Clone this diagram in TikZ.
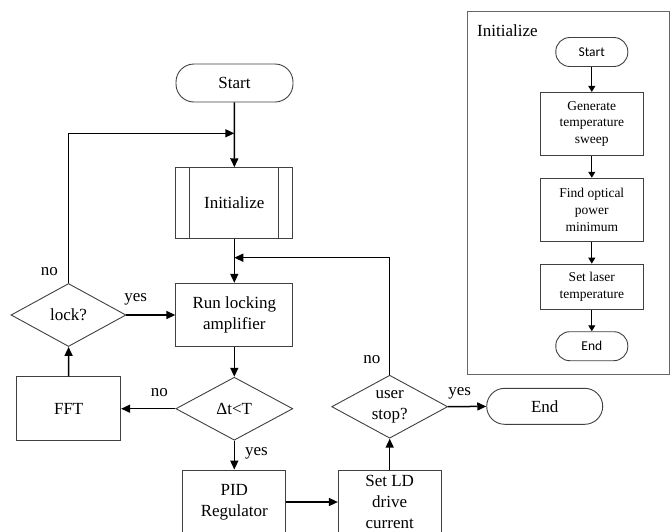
\documentclass[tikz,border=0pt]{standalone}
\usepackage{fontspec}
\setmainfont{Liberation Serif}
\newfontfamily\carlito{Carlito}
\usetikzlibrary{shapes, calc, arrows.meta, positioning}

\begin{document}
\begin{tikzpicture}[x=1pt, y=-1pt, > = {Triangle[length=9pt, width=8pt]},
    box/.style = {draw=black!75, line width=0.9pt, fill=white, align=center, inner sep=1pt, font=\fontsize{17}{21}\selectfont},
    term/.style = {box, rounded corners=18pt},
    cond/.style = {box, diamond, aspect=1.84},
    ibox/.style = {box, font=\fontsize{13.5}{16.7}\selectfont, minimum width=102.7pt},
    iterm/.style = {ibox, rounded corners=14pt, font=\carlito\fontsize{13.5}{16.7}\selectfont, minimum width=72pt, minimum height=29pt},
    flow/.style = {->, line width=1.5pt},
    iflow/.style = {-{Triangle[length=6pt, width=7pt]}, line width=1pt},
    lbl/.style = {font=\fontsize{17}{21}\selectfont, inner sep=2pt}]
    \useasboundingbox (0,0) rectangle (670,531);
    \clip (0,0) rectangle (670,531);

    % main chart
    \node[term, minimum width=117pt, minimum height=38pt] (start) at (234.5,83) {Start};
    \node[box, minimum width=117pt, minimum height=70.6pt] (ini) at (234.3,203) {Initialize};
    \draw[draw=black!75, line width=0.9pt] ([xshift=14.5pt]ini.north west) -- ([xshift=14.5pt]ini.south west);
    \draw[draw=black!75, line width=0.9pt] ([xshift=-14.5pt]ini.north east) -- ([xshift=-14.5pt]ini.south east);
    \node[box, minimum width=117pt, minimum height=63.5pt] (run) at (234.3,315) {Run locking\\amplifier};
    \node[cond, minimum width=115pt, minimum height=63pt] (lock) at (68.5,315) {lock?};
    \node[box, minimum width=104pt, minimum height=64pt] (fft) at (68.7,408.7) {FFT};
    \node[cond, minimum width=117pt, minimum height=63pt] (dt) at (234.3,408.7) {Δt<T};
    \node[box, minimum width=103pt, minimum height=64pt] (pid) at (234.3,502) {PID\\Regulator};
    \node[box, minimum width=102.7pt, minimum height=64pt] (setld) at (389.7,502) {Set LD\\drive\\current};
    \node[cond, minimum width=116pt, minimum height=63pt] (stop) at (389.7,406.7) {user\\stop?};
    \node[term, minimum width=116pt, minimum height=36pt] (end) at (544.7,406.3) {End};

    \coordinate (m1) at (234.3,133.3);
    \coordinate (m2) at (234.3,257.7);

    \draw[flow] (start) -- (ini);
    \draw[flow] (ini) -- (run);
    \draw[flow] (lock.north) |- node[lbl, pos=0.037, left=8pt] (nolock) {no} (m1);
    \draw[flow] (lock) -- node[lbl, pos=0.19, above=7pt] (yeslock) {yes} (run);
    \draw[flow] (run) -- (dt);
    \draw[flow] (dt) -- node[lbl, pos=0.295, above=9pt] (nodt) {no} (fft);
    \draw[flow] (fft) -- (lock);
    \draw[flow] (dt) -- node[lbl, pos=0.43, right=8pt] (yesdt) {yes} (pid);
    \draw[flow] (pid) -- (setld);
    \draw[flow] (setld) -- (stop);
    \draw[flow] (stop) -- node[lbl, pos=0.31, above=5pt] (yesstop) {yes} (end);
    \draw[flow] (stop.north) |- node[lbl, pos=0.066, left=6.6pt] (nostop) {no} (m2);

    % inset: Initialize
    \node[draw=black!60, line width=0.9pt, minimum width=202.5pt, minimum height=363pt, inner sep=0pt] (frame) at (568.25,192.5) {};
    \node[anchor=west, font=\fontsize{17}{21}\selectfont, inner sep=0pt] (ititle) at (477,31) {Initialize};
    \node[iterm] (istart) at (591.8,52) {Start};
    \node[ibox, minimum height=62.7pt] (igen) at (591.8,123.7) {Generate\\temperature\\sweep};
    \node[ibox, minimum height=63.4pt] (ifind) at (591.8,209.9) {Find optical\\power\\minimum};
    \node[ibox, minimum height=45pt] (iset) at (591.8,286.6) {Set laser\\temperature};
    \node[iterm] (iend) at (591.8,346.2) {End};

    \draw[iflow] (istart) -- (igen);
    \draw[iflow] (igen) -- (ifind);
    \draw[iflow] (ifind) -- (iset);
    \draw[iflow] (iset) -- (iend);
\end{tikzpicture}
\end{document}
